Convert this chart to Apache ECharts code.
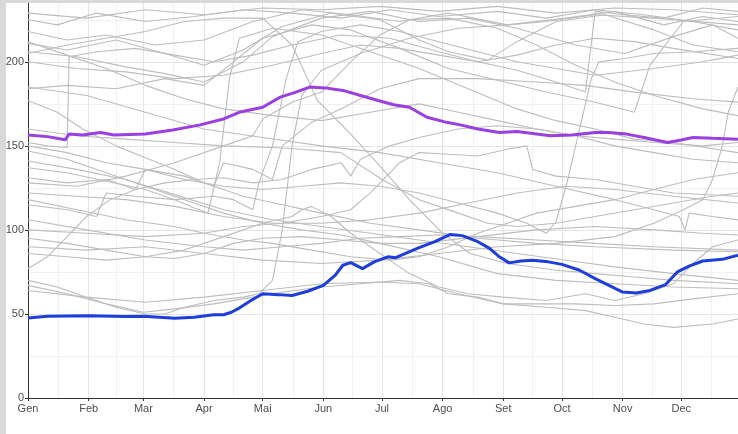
<!DOCTYPE html>
<html><head><meta charset="utf-8">
<script src="https://cdn.jsdelivr.net/npm/echarts@6/dist/echarts.min.js"></script>
<style>
html,body{margin:0;padding:0;background:#fff;}
#chart{position:absolute;left:0;top:0;width:738px;height:434px;}
#sl{position:absolute;left:0;top:0;width:6px;height:434px;background:#d9d9d9;}
#st{position:absolute;left:0;top:0;width:738px;height:3px;background:#d9d9d9;}
</style></head><body>
<div id="chart"></div><div id="sl"></div><div id="st"></div>
<script>
const months = ['Gen','Feb','Mar','Apr','Mai','Jun','Jul','Ago','Set','Oct','Nov','Dec'];
const monthStarts = [0,31,59,90,120,151,181,212,243,273,304,334];
const minorDays = [15.5,45,74.5,105,135.5,166,196.5,227.5,258,288.5,319,349.5];
const yTicks = [0,50,100,150,200];
const yMinor = [25,75,125,175,225];

const blueLine = [[0,47.6],[10,48.6],[31,49],[50,48.5],[59,48.7],[75,47.5],[85,48],[95,49.5],[100,49.5],[104,51],[108,53.5],[114,58],[120,62],[128,61.5],[135,61],[143,63.5],[151,67],[157,73],[161,79],[165,80.5],[171,77],[177,81],[184,84],[188,83.5],[199,89],[208,93],[216,97.3],[222,96.6],[230,93],[236,89],[241,84],[246,80.4],[252,81.5],[258,82],[266,81],[273,79.5],[282,76],[290,71],[297,67],[304,63],[311,62.5],[318,64],[326,67.5],[332,75],[338,78.5],[345,81.5],[355,82.5],[363,85]];

const purpleLine = [[0,156.5],[10,155.5],[19,153.6],[21,157],[28,156.5],[37,158],[44,156.5],[60,157],[74,159.5],[88,162.5],[100,166],[108,170],[120,173],[129,179],[137,182],[144,185],[152,184.5],[161,183],[170,180],[179,177],[187,174.5],[195,173],[204,167],[214,164],[221,162.5],[230,160],[241,158],[250,158.5],[257,157.5],[267,156],[278,156.5],[290,158],[297,158],[306,157],[315,155],[327,152],[334,153.5],[340,155],[350,154.5],[363,154]];

const greyLines = [
 [[0,225],[15,222],[35,229],[60,224],[85,227],[110,231],[135,229],[160,226],[185,231],[210,227],[240,230],[265,226],[290,231],[315,228],[340,224],[363,219]],
 [[0,218],[20,213],[40,216],[65,210],[90,213],[115,224],[140,231],[165,228],[190,224],[215,229],[245,222],[275,226],[300,230],[325,222],[345,227],[363,224]],
 [[0,211],[20,207],[45,213],[70,205],[90,198],[110,207],[130,221],[155,229],[180,225],[200,213],[215,206],[235,201],[250,212],[270,224],[295,228],[320,219],[340,210],[363,206]],
 [[0,206],[25,203],[50,197],[70,193],[90,188],[110,200],[125,215],[150,226],[175,230],[200,224],[225,226],[250,220],[280,210],[305,205],[330,215],[350,222],[363,214]],
 [[0,184],[20,186],[45,184],[70,190],[90,186],[105,200],[120,214],[145,222],[165,219],[190,208],[215,196],[240,189],[265,182],[290,176],[310,170],[318,198],[335,224],[363,227]],
 [[0,229],[30,226],[60,231],[90,228],[120,232],[150,231],[180,233],[210,230],[240,233],[270,229],[300,232],[330,231],[363,228]],
 [[0,177],[15,170],[28,160],[45,150],[60,143],[75,136],[90,128],[110,120],[130,115],[150,110],[175,104],[200,100],[230,95],[260,92],[290,90],[330,88],[363,87]],
 [[0,147],[20,142],[40,134],[60,126],[80,118],[100,110],[120,104],[140,100],[160,97],[180,92],[210,84],[240,74],[270,70],[300,68],[330,66],[363,65]],
 [[0,141],[25,136],[50,130],[75,121],[100,112],[125,106],[150,102],[175,98],[200,94],[225,90],[250,86],[275,82],[300,78],[330,74],[363,70]],
 [[0,137],[20,134],[40,129],[60,124],[75,118],[85,113],[92,110],[98,140],[103,190],[108,214],[125,220],[150,216],[175,206],[200,196],[225,184],[250,172],[270,165],[290,160],[310,154],[330,152],[363,146]],
 [[0,131],[20,128],[40,130],[55,124],[60,136],[80,132],[95,126],[100,140],[115,136],[125,130],[130,150],[145,164],[160,172],[180,184],[200,190],[230,190],[260,188],[285,186],[310,182],[340,178],[363,176]],
 [[0,128],[25,126],[50,132],[75,140],[100,150],[115,156],[120,166],[135,176],[150,182],[165,200],[180,216],[195,225],[215,226],[240,220],[260,210],[280,198],[300,188],[320,180],[345,172],[363,168]],
 [[0,122],[25,120],[50,118],[75,114],[100,108],[125,104],[150,104],[175,106],[200,110],[225,116],[250,122],[275,126],[300,124],[330,120],[363,116]],
 [[0,115],[20,112],[35,108],[40,122],[55,120],[75,118],[95,120],[105,118],[115,112],[118,128],[125,150],[132,190],[138,212],[150,218],[170,222],[190,218],[210,212],[230,206],[250,200],[270,196],[290,192],[320,196],[345,200],[363,204]],
 [[0,106],[30,100],[60,94],[90,90],[110,88],[130,90],[150,92],[170,95],[190,96],[210,97],[230,96],[260,94],[290,92],[320,90],[363,88]],
 [[0,95],[20,92],[40,88],[60,84],[75,83],[90,86],[105,92],[120,95],[140,96],[160,94],[180,92],[200,92],[230,96],[260,100],[290,102],[320,100],[345,98],[363,97]],
 [[0,77],[10,84],[20,96],[30,108],[42,118],[55,124],[70,128],[85,130],[100,131],[115,128],[130,130],[145,136],[160,140],[165,132],[170,142],[185,150],[200,155],[220,160],[240,162],[260,160],[280,156],[300,154],[320,152],[345,150],[363,152]],
 [[0,70],[15,66],[30,60],[45,54],[60,50],[70,50],[80,54],[95,58],[110,60],[118,62],[125,70],[130,100],[135,150],[140,180],[150,195],[170,205],[195,214],[220,220],[245,222],[265,224],[290,228],[320,226],[363,222]],
 [[0,67],[20,62],[40,56],[59,51],[75,53],[95,56],[115,60],[130,63],[150,66],[170,68],[190,70],[205,68],[215,62],[230,60],[243,56],[260,56],[280,56],[300,55],[320,56],[340,59],[363,62]],
 [[0,64],[30,60],[60,57],[90,60],[120,64],[150,68],[180,69],[200,68],[220,62],[243,56],[265,54],[285,52],[300,48],[315,44],[330,42],[350,44],[363,47]],
 [[0,118],[25,112],[50,106],[75,102],[90,98],[110,94],[125,92],[145,88],[165,84],[185,82],[200,84],[215,90],[230,98],[245,104],[260,110],[280,114],[300,118],[320,124],[340,130],[363,134]],
 [[0,86],[20,84],[40,82],[60,84],[80,88],[100,96],[120,104],[135,108],[140,112],[145,114],[155,108],[165,98],[180,86],[195,74],[210,66],[225,62],[243,60],[265,58],[285,62],[300,58],[315,62],[330,68],[340,80],[350,90],[363,94]],
 [[0,100],[30,98],[60,96],[90,98],[110,102],[130,104],[150,108],[165,112],[175,122],[190,140],[200,146],[215,145],[230,144],[245,148],[255,150],[258,136],[270,132],[290,130],[310,126],[330,122],[363,120]],
 [[0,205],[20,210],[40,214],[60,218],[80,224],[100,226],[120,226],[135,210],[148,177],[165,157],[180,138],[195,118],[212,98],[226,86],[245,80],[270,76],[290,74],[310,72],[330,70],[363,68]],
 [[0,160],[25,156],[50,154],[75,152],[100,150],[125,149],[140,148],[160,146],[181,130],[200,118],[220,110],[235,104],[250,102],[270,104],[290,108],[310,112],[330,116],[350,120],[363,122]],
 [[0,150],[20,146],[40,140],[60,136],[80,130],[100,126],[120,124],[140,126],[160,128],[180,126],[200,122],[220,116],[240,110],[255,104],[265,98],[270,105],[276,130],[282,160],[288,190],[292,200],[305,202],[320,205],[340,206],[363,208]],
 [[0,90],[30,88],[60,90],[90,86],[120,82],[150,80],[180,82],[210,86],[240,90],[270,92],[300,96],[320,104],[335,112],[345,118],[350,130],[355,150],[358,170],[363,185]],
 [[0,200],[25,196],[50,194],[75,190],[100,192],[125,198],[150,205],[170,210],[190,208],[210,204],[230,200],[250,195],[270,188],[285,182],[290,230],[305,228],[325,226],[345,232],[363,230]],
 [[0,185],[30,180],[60,170],[90,160],[120,155],[150,150],[180,146],[210,140],[240,134],[270,126],[300,118],[320,112],[333,108],[336,100],[338,110],[350,108],[363,106]],
 [[0,212],[20,204],[40,196],[60,186],[80,178],[100,172],[125,168],[150,165],[175,170],[200,175],[220,170],[240,165],[260,160],[280,156],[300,150],[320,146],[340,142],[363,140]],
 [[0,152],[10,150],[20,149],[21,203],[35,206],[55,208],[75,204],[95,200],[115,204],[135,210],[160,216],[185,214],[210,206],[230,200],[250,204],[270,210],[290,214],[310,212],[330,208],[363,202]]
];

const labelFont = {color:'#4d4d4d', fontSize:11, fontFamily:'Liberation Sans, Arial, sans-serif'};
const chart = echarts.init(document.getElementById('chart'), null, {renderer:'canvas'});
const series = greyLines.map(d => ({
  type:'line', data:d, showSymbol:false, silent:true, z:2,
  lineStyle:{color:'#bdbdbd', width:1.1}
}));
series.push({type:'line', data:purpleLine, showSymbol:false, silent:true, z:3, lineStyle:{color:'#9a3fe2', width:3}});
series.push({type:'line', data:blueLine, showSymbol:false, silent:true, z:4, lineStyle:{color:'#1e3ddb', width:3}});

chart.setOption({
  animation:false,
  backgroundColor:'#fff',
  grid:{left:28, right:0, top:3, bottom:36, containLabel:false},
  xAxis:[{
    type:'value', min:0, max:363,
    axisLine:{show:true, lineStyle:{color:'#333', width:1}},
    axisTick:{show:true, length:3, customValues:monthStarts, lineStyle:{color:'#333'}},
    axisLabel:{show:true, margin:5, customValues:monthStarts, ...labelFont,
      formatter:(v)=>{const i=monthStarts.indexOf(Math.round(v)); return i>=0?months[i]:'';}},
    splitLine:{show:true, lineStyle:{color:'#e4e4e4', width:1}}
  },{
    type:'value', min:0, max:363, position:'top',
    axisLine:{show:false}, axisLabel:{show:false},
    axisTick:{show:false, customValues:minorDays},
    splitLine:{show:true, lineStyle:{color:'#f1f1f1', width:1}}
  }],
  yAxis:[{
    type:'value', min:0, max:235,
    axisLine:{show:true, lineStyle:{color:'#333', width:1}},
    axisTick:{show:true, length:3, customValues:yTicks, lineStyle:{color:'#333'}},
    axisLabel:{show:true, margin:4, customValues:yTicks, ...labelFont},
    splitLine:{show:true, lineStyle:{color:'#e4e4e4', width:1}}
  },{
    type:'value', min:0, max:235, position:'right',
    axisLine:{show:false}, axisLabel:{show:false},
    axisTick:{show:false, customValues:yMinor},
    splitLine:{show:true, lineStyle:{color:'#f1f1f1', width:1}}
  }],
  series:series
});
</script>
</body></html>
